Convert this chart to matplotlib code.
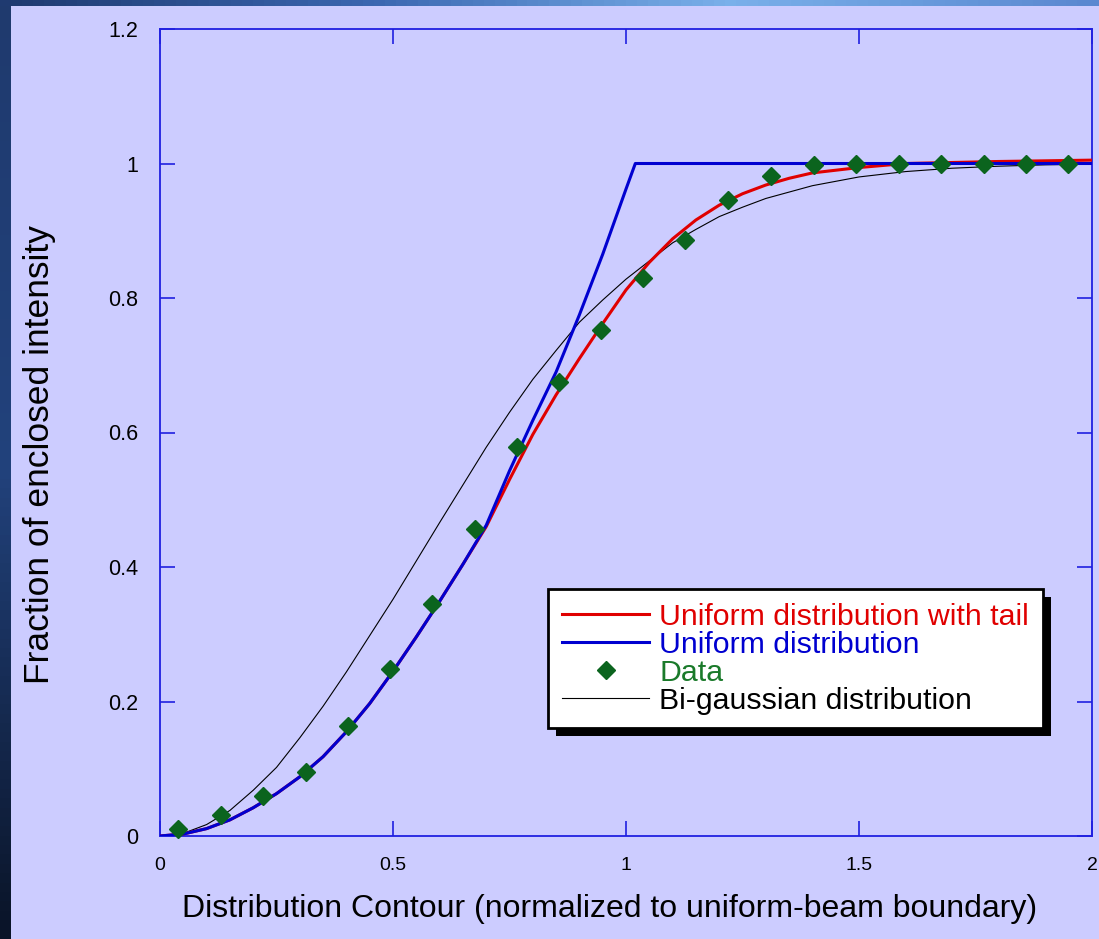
import numpy as np
import matplotlib
matplotlib.use('Agg')
import matplotlib.pyplot as plt
from matplotlib.patches import Rectangle
from matplotlib.colors import LinearSegmentedColormap

plt.rcParams['font.family'] = ['Liberation Sans', 'DejaVu Sans']

# measured points (Data)
x_data = [0.039, 0.131, 0.221, 0.313, 0.403, 0.494, 0.584, 0.676, 0.766, 0.856, 0.946,
          1.036, 1.127, 1.219, 1.311, 1.403, 1.494, 1.586, 1.676, 1.768, 1.858, 1.948]
y_data = [0.010, 0.031, 0.059, 0.095, 0.163, 0.248, 0.345, 0.456, 0.578, 0.675, 0.752,
          0.829, 0.886, 0.945, 0.982, 0.998, 1.000, 1.000, 1.000, 1.000, 1.000, 1.000]

# uniform distribution
x_uni = [0, 0.05, 0.1, 0.15, 0.2, 0.25, 0.3, 0.35, 0.4, 0.45, 0.5, 0.55, 0.6, 0.65,
         0.7, 0.75, 0.8, 0.85, 0.9, 0.95, 1.0, 1.02, 2.0]
y_uni = [0, 0.003, 0.011, 0.024, 0.042, 0.063, 0.088, 0.118, 0.155, 0.197, 0.245, 0.296,
         0.349, 0.404, 0.462, 0.543, 0.618, 0.690, 0.775, 0.865, 0.962, 1.0, 1.0]

# uniform distribution with tail
x_tail = [0, 0.05, 0.1, 0.15, 0.2, 0.25, 0.3, 0.35, 0.4, 0.45, 0.5, 0.55, 0.6, 0.65,
          0.7, 0.75, 0.8, 0.85, 0.9, 0.95, 1.0, 1.05, 1.1, 1.15, 1.2, 1.25, 1.3,
          1.35, 1.4, 1.5, 1.6, 1.8, 2.0]
y_tail = [0, 0.003, 0.011, 0.024, 0.042, 0.063, 0.088, 0.118, 0.155, 0.197, 0.245, 0.296,
          0.349, 0.404, 0.460, 0.530, 0.597, 0.656, 0.710, 0.762, 0.812, 0.853, 0.888,
          0.916, 0.938, 0.955, 0.968, 0.978, 0.986, 0.994, 1.000, 1.003, 1.005]

# bi-gaussian distribution
x_bg = [0, 0.05, 0.1, 0.15, 0.2, 0.25, 0.3, 0.35, 0.4, 0.45, 0.5, 0.55, 0.6, 0.65,
        0.7, 0.75, 0.8, 0.85, 0.9, 0.95, 1.0, 1.05, 1.1, 1.15, 1.2, 1.25, 1.3,
        1.4, 1.5, 1.6, 1.7, 1.8, 1.9, 2.0]
y_bg = [0, 0.004, 0.017, 0.038, 0.068, 0.102, 0.146, 0.193, 0.244, 0.298, 0.352, 0.409,
        0.466, 0.522, 0.578, 0.630, 0.679, 0.722, 0.764, 0.797, 0.828, 0.855, 0.882,
        0.902, 0.921, 0.935, 0.948, 0.967, 0.980, 0.988, 0.993, 0.996, 0.998, 0.999]

bg = '#ccccff'
fig = plt.figure(figsize=(10.99, 9.39), dpi=100, facecolor=bg)

# slide border strips
left = fig.add_axes([0, 0, 11 / 1099, 1])
left.imshow(np.linspace(0, 1, 100).reshape(-1, 1), aspect='auto',
            cmap=LinearSegmentedColormap.from_list('l', ['#1f3a6e', '#22427c', '#0a1428']))
left.axis('off')
top = fig.add_axes([0, 1 - 6 / 939, 1, 6 / 939])
top.imshow(np.linspace(0, 1, 100).reshape(1, -1), aspect='auto',
           cmap=LinearSegmentedColormap.from_list('t', ['#1f3a70', '#3a66b0', '#7ab0ea', '#5a88d0']))
top.axis('off')

ax = fig.add_axes([160 / 1099, 1 - 836 / 939, 932 / 1099, 807 / 939])
ax.set_facecolor(bg)

ax.plot(x_bg, y_bg, color='black', lw=0.8, label='Bi-gaussian distribution', zorder=2)
ax.plot(x_tail, y_tail, color='#e00000', lw=2.2, label='Uniform distribution with tail', zorder=3)
ax.plot(x_uni, y_uni, color='#0000d0', lw=2.2, label='Uniform distribution', zorder=3)
ax.plot(x_data, y_data, 'D', color='#0b641e', ms=9.5, label='Data', zorder=4, clip_on=False)

ax.set_xlim(0, 2)
ax.set_ylim(0, 1.2)
ax.set_xticks([0, 0.5, 1, 1.5, 2])
ax.set_xticklabels(['0', '0.5', '1', '1.5', '2'])
ax.set_yticks([0, 0.2, 0.4, 0.6, 0.8, 1, 1.2])
ax.set_yticklabels(['0', '0.2', '0.4', '0.6', '0.8', '1', '1.2'])
for s in ax.spines.values():
    s.set_color('#2020e0')
    s.set_linewidth(1.3)
ax.tick_params(direction='in', length=11, width=1.2, color='#2020e0',
               top=True, right=True, labelcolor='black')
ax.tick_params(axis='x', labelsize=14, pad=15)
ax.tick_params(axis='y', labelsize=15.5, pad=16)

ax.set_xlabel('Distribution Contour (normalized to uniform-beam boundary)', fontsize=23)
ax.xaxis.set_label_coords((610 - 160) / 932, (836 - 894) / 807)
ax.set_ylabel('Fraction of enclosed intensity', fontsize=25.5)
ax.yaxis.set_label_coords((56 - 160) / 932, (836 - 455) / 807)

h, l = ax.get_legend_handles_labels()
order = [1, 2, 3, 0]
leg = ax.legend([h[i] for i in order], [l[i] for i in order], loc='upper left',
                bbox_to_anchor=(388 / 932, 1 - 560 / 807), fontsize=21.8, frameon=True,
                fancybox=False, framealpha=1, edgecolor='black', facecolor='white',
                handlelength=2.9, handletextpad=0.33, labelspacing=0.0, borderpad=0.45,
                borderaxespad=0)
leg.get_frame().set_linewidth(2)
for t, c in zip(leg.get_texts(), ['#e00000', '#0000d0', '#1a7a2a', 'black']):
    t.set_color(c)

fig.canvas.draw()
bb = leg.get_window_extent()
ax.add_patch(Rectangle((bb.x0 + 8, bb.y0 - 8), bb.width, bb.height, transform=None,
                       facecolor='black', edgecolor='none', zorder=4.9, clip_on=False))

fig.savefig('out.png', dpi=100, facecolor=bg)
